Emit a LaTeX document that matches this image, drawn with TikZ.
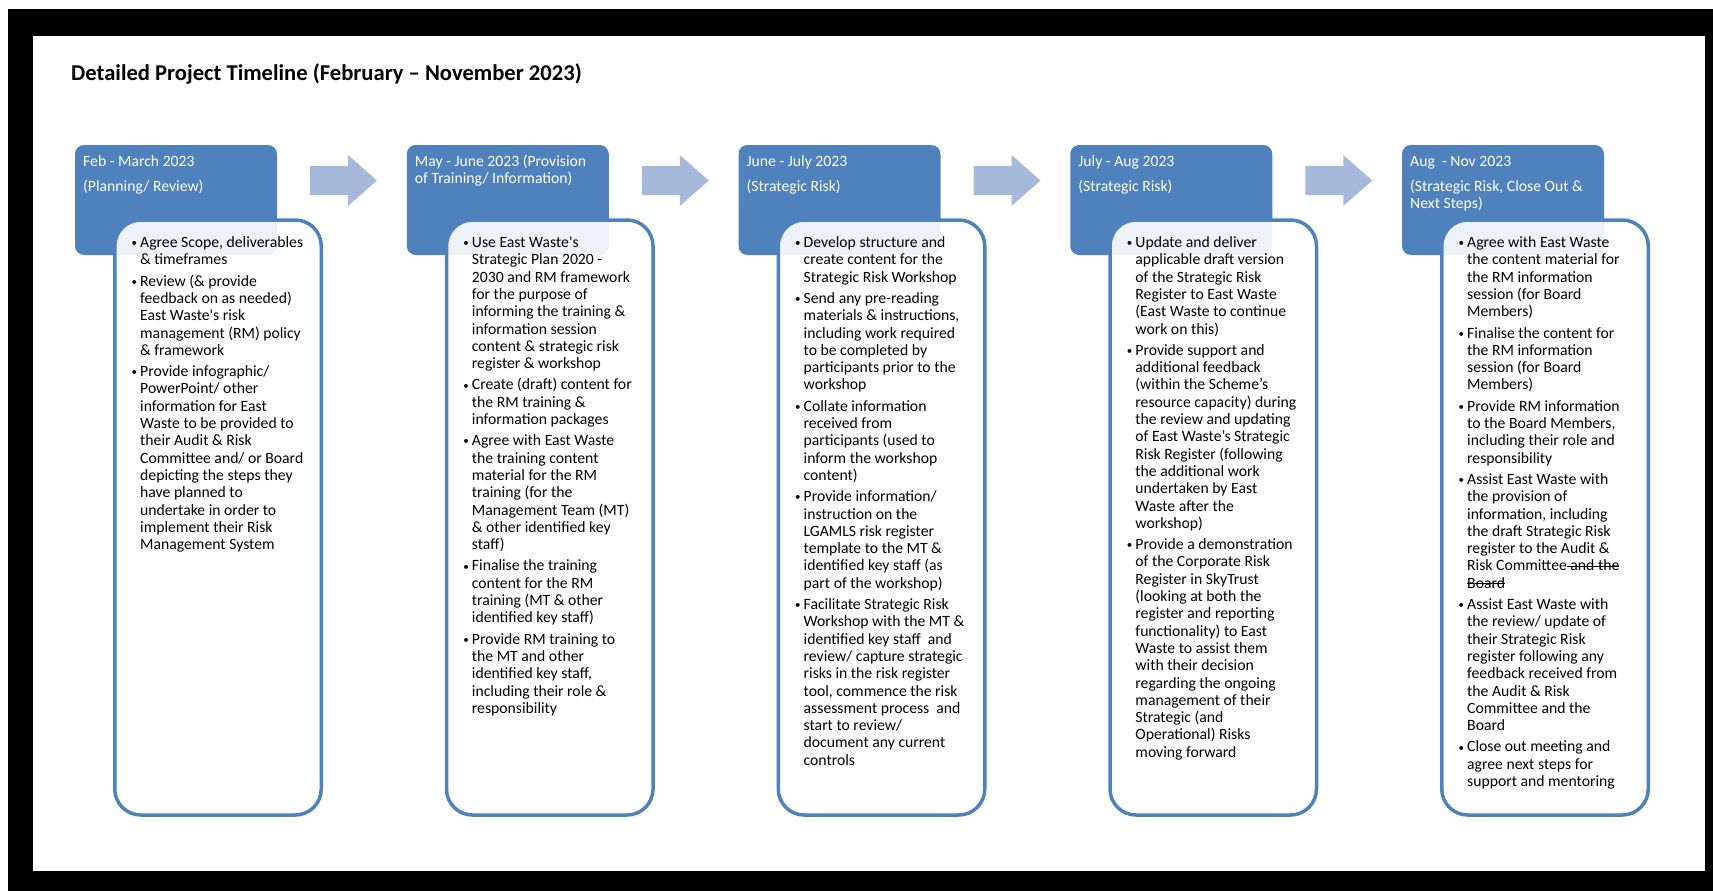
\documentclass[tikz,border=0pt]{standalone}
\usepackage{fontspec}
\setmainfont{Carlito}
\usepackage{tikz}
\usetikzlibrary{calc}

\definecolor{phaseblue}{HTML}{4F81BD}
\definecolor{arrowblue}{HTML}{A7B9DA}

% one bullet point with a hanging indent, lines broken by hand
\newcommand\bitem{\par\noindent\hangindent=8pt\hangafter=1\makebox[8pt][l]{\hspace{-0.5pt}\raisebox{0.9pt}{\fontsize{11}{11}\selectfont\textbullet}}}
\newcommand\parblock[2]{\begin{minipage}[t]{200pt}\setlength{\parskip}{#1}#2\end{minipage}}
% struck-out words
\newcommand\strike[1]{\setbox0\hbox{#1}\rlap{\rule[0.25em]{\wd0}{0.8pt}}\box0}

\tikzset{
  phasebox/.style={rectangle, rounded corners=9pt, fill=phaseblue, minimum width=202pt, minimum height=110pt, inner sep=0},
  taskbox/.style={rectangle, rounded corners=26pt, draw=phaseblue, line width=3.5pt, fill=white, fill opacity=0.9, text opacity=1, minimum width=206.5pt, minimum height=595pt, inner sep=0},
  phasetext/.style={anchor=base west, inner sep=0, text=white, font=\fontsize{15.7}{17.3}\selectfont},
  tasktext/.style={anchor=base west, inner sep=0, text=black, font=\fontsize{15.7}{17.3}\selectfont},
  steparrow/.style={fill=arrowblue}
}

\begin{document}
\begin{tikzpicture}[x=1pt, y=-1pt]
			%%%%% frame %%%%%
			\useasboundingbox (0,0) rectangle (1713,891);
			\fill[white] (0,0) rectangle (1713,891);
			\fill[black] (8,9) rectangle (1713,891);
			\fill[white] (33,36) rectangle (1705,871);
			
			\node[anchor=base west, inner sep=0, font=\fontsize{22.6}{27}\selectfont\bfseries] (title) at (71,80.5) {Detailed Project Timeline (February -- November 2023)};
			
			%%%%% arrows between the phases %%%%%
			\foreach \hx in {75,406.75,738.5,1070.25}
				\fill[steparrow] (\hx+235,166) -- (\hx+273,166) -- (\hx+273,155) -- (\hx+302,180.5) -- (\hx+273,206) -- (\hx+273,195) -- (\hx+235,195) -- cycle;
			
			%%%%% phase headers %%%%%
			\node[phasebox] (head1) at (176,200) {};
			\node[phasebox] (head2) at (507.75,200) {};
			\node[phasebox] (head3) at (839.5,200) {};
			\node[phasebox] (head4) at (1171.25,200) {};
			\node[phasebox] (head5) at (1503,200) {};
			
			\node[phasetext] (htext1) at (83,166.5) {\parblock{7.75pt}{Feb - March 2023\par (Planning/ Review)}};
			\node[phasetext] (htext2) at (414.75,166.5) {\parblock{7.75pt}{May - June 2023 (Provision\newline of Training/ Information)}};
			\node[phasetext] (htext3) at (746.5,166.5) {\parblock{7.75pt}{June - July 2023\par (Strategic Risk)}};
			\node[phasetext] (htext4) at (1078.25,166.5) {\parblock{7.75pt}{July - Aug 2023\par (Strategic Risk)}};
			\node[phasetext] (htext5) at (1410,166.5) {\parblock{7.75pt}{Aug\ \ - Nov 2023\par (Strategic Risk, Close Out \&\newline Next Steps)}};
			
			%%%%% task boxes %%%%%
			\node[taskbox] (body1) at (218,517.5) {};
			\node[taskbox] (body2) at (549.75,517.5) {};
			\node[taskbox] (body3) at (881.5,517.5) {};
			\node[taskbox] (body4) at (1213.25,517.5) {};
			\node[taskbox] (body5) at (1545,517.5) {};
			
			\node[tasktext] (list1) at (132,247.5) {\parblock{4pt}{%
				\bitem Agree Scope, deliverables\newline \& timeframes
				\bitem Review (\& provide\newline feedback on as needed)\newline East Waste\textquotesingle s risk\newline management (RM) policy\newline \& framework
				\bitem Provide infographic/\newline PowerPoint/ other\newline information for East\newline Waste to be provided to\newline their Audit \& Risk\newline Committee and/ or Board\newline depicting the steps they\newline have planned to\newline undertake in order to\newline implement their Risk\newline Management System}};
			
			\node[tasktext] (list2) at (463.75,247.5) {\parblock{4pt}{%
				\bitem Use East Waste\textquotesingle s\newline Strategic Plan 2020 -\newline 2030 and RM framework\newline for the purpose of\newline informing the training \&\newline information session\newline content \& strategic risk\newline register \& workshop
				\bitem Create (draft) content for\newline the RM training \&\newline information packages
				\bitem Agree with East Waste\newline the training content\newline material for the RM\newline training (for the\newline Management Team (MT)\newline \& other identified key\newline staff)
				\bitem Finalise the training\newline content for the RM\newline training (MT \& other\newline identified key staff)
				\bitem Provide RM training to\newline the MT and other\newline identified key staff,\newline including their role \&\newline responsibility}};
			
			\node[tasktext] (list3) at (795.5,247.5) {\parblock{4pt}{%
				\bitem Develop structure and\newline create content for the\newline Strategic Risk Workshop
				\bitem Send any pre-reading\newline materials \& instructions,\newline including work required\newline to be completed by\newline participants prior to the\newline workshop
				\bitem Collate information\newline received from\newline participants (used to\newline inform the workshop\newline content)
				\bitem Provide information/\newline instruction on the\newline LGAMLS risk register\newline template to the MT \&\newline identified key staff (as\newline part of the workshop)
				\bitem Facilitate Strategic Risk\newline Workshop with the MT \&\newline identified key staff\ \ and\newline review/ capture strategic\newline risks in the risk register\newline tool, commence the risk\newline assessment process\ \ and\newline start to review/\newline document any current\newline controls}};
			
			\node[tasktext] (list4) at (1127.25,247.5) {\parblock{4pt}{%
				\bitem Update and deliver\newline applicable draft version\newline of the Strategic Risk\newline Register to East Waste\newline (East Waste to continue\newline work on this)
				\bitem Provide support and\newline additional feedback\newline (within the Scheme’s\newline resource capacity) during\newline the review and updating\newline of East Waste’s Strategic\newline Risk Register (following\newline the additional work\newline undertaken by East\newline Waste after the\newline workshop)
				\bitem Provide a demonstration\newline of the Corporate Risk\newline Register in SkyTrust\newline (looking at both the\newline register and reporting\newline functionality) to East\newline Waste to assist them\newline with their decision\newline regarding the ongoing\newline management of their\newline Strategic (and\newline Operational) Risks\newline moving forward}};
			
			\node[tasktext] (list5) at (1459,247.5) {\parblock{4pt}{%
				\bitem Agree with East Waste\newline the content material for\newline the RM information\newline session (for Board\newline Members)
				\bitem Finalise the content for\newline the RM information\newline session (for Board\newline Members)
				\bitem Provide RM information\newline to the Board Members,\newline including their role and\newline responsibility
				\bitem Assist East Waste with\newline the provision of\newline information, including\newline the draft Strategic Risk\newline register to the Audit \&\newline Risk Committee\strike{ and the}\newline \strike{Board}
				\bitem Assist East Waste with\newline the review/ update of\newline their Strategic Risk\newline register following any\newline feedback received from\newline the Audit \& Risk\newline Committee and the\newline Board
				\bitem Close out meeting and\newline agree next steps for\newline support and mentoring}};
			
\end{tikzpicture}
\end{document}
